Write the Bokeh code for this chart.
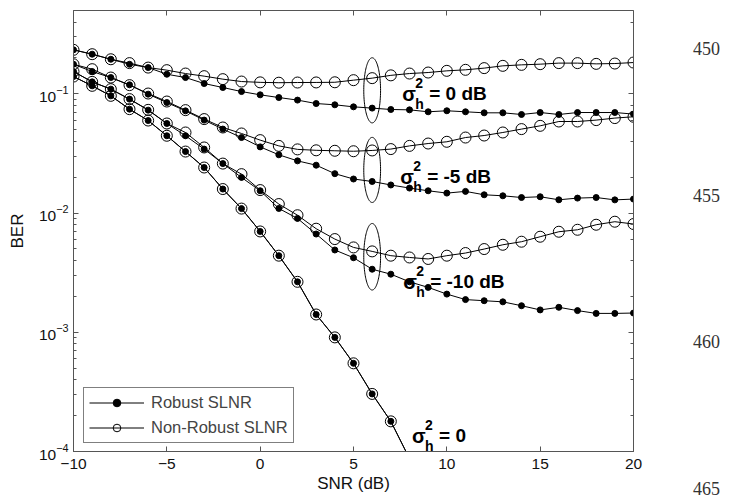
import numpy as np
from bokeh.plotting import figure
from bokeh.layouts import row
from bokeh.models import (LinearAxis, LogAxis, Label, Legend, LegendItem, Div,
                          FixedTicker, Range1d, CustomJSTickFormatter)
from bokeh.embed import file_html
from bokeh.resources import INLINE

# ---------------- data ----------------
snr = list(range(-10, 21))
snr_perfect = list(range(-10, 9))

ber_robust_0db = [0.234, 0.215, 0.195, 0.177, 0.166, 0.146, 0.137, 0.122, 0.113, 0.1045,
                  0.0981, 0.0931, 0.0886, 0.0829, 0.0809, 0.0778, 0.0759, 0.0739, 0.0734, 0.0707,
                  0.0721, 0.0707, 0.0693, 0.0693, 0.0671, 0.0697, 0.0671, 0.0697, 0.0697, 0.0697,
                  0.0676]
ber_nonrobust_0db = [0.234, 0.215, 0.195, 0.181, 0.166, 0.158, 0.148, 0.1407, 0.1328, 0.1268,
                     0.1248, 0.1240, 0.1244, 0.1246, 0.1250, 0.1302, 0.1354, 0.1429, 0.148, 0.1509,
                     0.1559, 0.159, 0.1643, 0.1717, 0.175, 0.1773, 0.181, 0.181, 0.1784, 0.1795,
                     0.183]
ber_robust_m5db = [0.177, 0.1538, 0.137, 0.119, 0.0994, 0.0845, 0.0720, 0.0602, 0.0506, 0.0430,
                   0.0359, 0.0308, 0.0274, 0.0252, 0.0214, 0.0193, 0.0184, 0.0172, 0.0162, 0.01538,
                   0.0147, 0.0152, 0.01423, 0.01396, 0.0135, 0.0137, 0.01292, 0.01335, 0.0135, 0.0129,
                   0.0131]
ber_nonrobust_m5db = [0.177, 0.161, 0.137, 0.1183, 0.1006, 0.0862, 0.0730, 0.0614, 0.0522, 0.0465,
                      0.0409, 0.0366, 0.0342, 0.0336, 0.0333, 0.0330, 0.0335, 0.0344, 0.0366, 0.0383,
                      0.0396, 0.0430, 0.0447, 0.0474, 0.0506, 0.0539, 0.0586, 0.0586, 0.0602, 0.0626,
                      0.0642]
ber_robust_m10db = [0.1538, 0.126, 0.1095, 0.0903, 0.0730, 0.0564, 0.0445, 0.0344, 0.0260, 0.0199,
                    0.01538, 0.01093, 0.00901, 0.00667, 0.00490, 0.00422, 0.00338, 0.00307, 0.00265, 0.00238,
                    0.00209, 0.00188, 0.00184, 0.00180, 0.00167, 0.00154, 0.00162, 0.00152, 0.00144, 0.00144,
                    0.00145]
ber_nonrobust_m10db = [0.1538, 0.126, 0.1095, 0.0903, 0.0734, 0.0564, 0.0474, 0.0355, 0.0260, 0.0212,
                       0.01559, 0.0119, 0.00959, 0.00739, 0.00605, 0.00515, 0.00477, 0.00439, 0.00424, 0.00412,
                       0.00439, 0.00462, 0.00499, 0.00542, 0.00575, 0.00633, 0.00697, 0.00724, 0.00798, 0.00846,
                       0.00809]
ber_perfect = [0.1396, 0.1167, 0.0962, 0.0744, 0.0597, 0.0445, 0.0328, 0.0241, 0.0159, 0.0109,
               0.00701, 0.00439, 0.00265, 0.00141, 0.000906, 0.000549, 0.000304, 0.000179, 0.0000872]

x_ticks = [-10, -5, 0, 5, 10, 15, 20]

# annotation ellipses (grouping robust / non-robust pairs at 6 dB)
ell_snr = [6, 6, 6]
ell_center_ber = [0.107, 0.0230, 0.0043]
ell_half_decades = [0.273, 0.273, 0.279]
ell_half_width_db = 0.45

# sigma_h^2 labels
label_snr = [7.61, 7.50, 7.66, 8.14]
label_ber = [0.1, 0.0201, 0.00265, 0.000136]
label_rhs = ["= 0 dB", "= -5 dB", "= -10 dB", "= 0"]

# page line numbers printed at the right margin of the scanned page
page_numbers = ["450", "455", "460", "465"]
page_number_top = [39, 186, 332, 479]

FONT = "Liberation Sans"
AX = "#555555"

p = figure(width=648, height=499, x_range=Range1d(-10, 20), y_range=Range1d(1e-4, 0.5),
           y_axis_type="log", output_backend="svg", toolbar_location=None,
           min_border_left=73, min_border_right=15, min_border_top=10, min_border_bottom=48)
p.outline_line_color = None
p.xgrid.visible = False
p.ygrid.visible = False
p.background_fill_color = "white"

def style_axis(ax, labels=True):
    ax.axis_line_color = AX
    ax.major_tick_line_color = AX
    ax.minor_tick_line_color = AX
    ax.major_tick_in = 5
    ax.major_tick_out = 0
    ax.minor_tick_in = 3
    ax.minor_tick_out = 0
    ax.major_label_text_font = FONT
    ax.major_label_text_font_size = "15.5px"
    ax.major_label_text_color = "#111111"
    ax.axis_label_text_font = FONT
    ax.axis_label_text_font_size = "17px"
    ax.axis_label_text_font_style = "normal"
    ax.axis_label_text_color = "#111111"
    if not labels:
        ax.formatter = CustomJSTickFormatter(code="return ''")
        ax.major_label_standoff = 0

xa = p.xaxis[0]
style_axis(xa)
xa.ticker = FixedTicker(ticks=x_ticks)
xa.axis_label = "SNR (dB)"
xa.major_label_standoff = 7
xa.axis_label_standoff = 2

ya = p.yaxis[0]
style_axis(ya)
ya.axis_label = "BER"
ya.major_label_standoff = 5
ya.axis_label_standoff = 9

top = LinearAxis(ticker=FixedTicker(ticks=x_ticks))
style_axis(top, labels=False)
p.add_layout(top, "above")
right = LogAxis()
style_axis(right, labels=False)
p.add_layout(right, "right")

# ---------------- curves ----------------
def draw(xs, ys, filled):
    ln = p.line(xs, ys, line_color="black", line_width=1)
    if filled:
        sc = p.scatter(xs, ys, marker="circle", size=6, fill_color="black", line_color="black")
    else:
        sc = p.scatter(xs, ys, marker="circle", size=11, fill_alpha=0, line_color="black", line_width=1)
    return ln, sc

ln_n0, sc_n0 = draw(snr, ber_nonrobust_0db, False)
draw(snr, ber_nonrobust_m5db, False)
draw(snr, ber_nonrobust_m10db, False)
draw(snr_perfect, ber_perfect, False)
ln_r0, sc_r0 = draw(snr, ber_robust_0db, True)
draw(snr, ber_robust_m5db, True)
draw(snr, ber_robust_m10db, True)
draw(snr_perfect, ber_perfect, True)

# ellipses
t = np.linspace(0, 2 * np.pi, 120)
for cx, cb, hd in zip(ell_snr, ell_center_ber, ell_half_decades):
    ex = cx + ell_half_width_db * np.cos(t)
    ey = 10 ** (np.log10(cb) + hd * np.sin(t))
    p.line(ex, ey, line_color="black", line_width=1)

# sigma labels
for lx, ly, rhs in zip(label_snr, label_ber, label_rhs):
    common = dict(x=lx, y=ly, text_font=FONT, text_font_style="bold",
                  text_color="black", text_baseline="alphabetic", text_align="left")
    p.add_layout(Label(text="σ", text_font_size="20px", **common))
    p.add_layout(Label(text="2", text_font_size="14px", x_offset=13, y_offset=11, **common))
    p.add_layout(Label(text="h", text_font_size="14px", x_offset=13, y_offset=-10, **common))
    p.add_layout(Label(text=rhs, text_font_size="19px", x_offset=27, y_offset=0, **common))

legend = Legend(items=[LegendItem(label="Robust SLNR", renderers=[ln_r0, sc_r0]),
                       LegendItem(label="Non-Robust SLNR", renderers=[ln_n0, sc_n0])],
                location=(10, 8), padding=5, spacing=6, margin=0,
                label_height=19, glyph_height=19, glyph_width=55, label_standoff=7,
                label_text_font=FONT, label_text_font_size="16.5px",
                border_line_color="black", border_line_width=1,
                background_fill_color="white", background_fill_alpha=1)
p.add_layout(legend)

# ---------------- right margin: page line numbers ----------------
spans = "".join(
    f'<span style="position:absolute;left:45px;top:{tp}px;white-space:nowrap;">{txt}</span>'
    for txt, tp in zip(page_numbers, page_number_top))
right_div = Div(width=84, height=499, margin=0,
                text=f'<div style="position:relative;width:84px;height:499px;'
                     f'font-family:\'Liberation Serif\';font-size:18px;line-height:normal;'
                     f'color:#333333;">{spans}</div>')

layout = row(p, right_div)
open("out.html", "w").write(file_html(layout, INLINE))
